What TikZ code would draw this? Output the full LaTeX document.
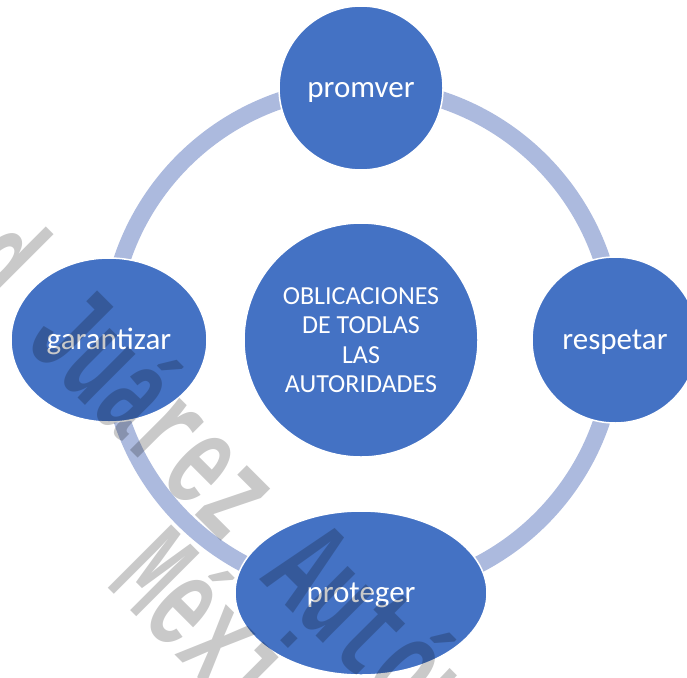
\documentclass[tikz,border=0pt]{standalone}
\usepackage{fontspec}
\setmainfont{Carlito}
\newfontfamily\wmfont{Liberation Mono}
\usetikzlibrary{shapes.geometric}
\definecolor{nodeblue}{HTML}{4472C4}
\definecolor{ringblue}{RGB}{172,186,222}
\tikzset{
  ring/.style={color=ringblue,line width=17pt},
  dot/.style={circle,fill=nodeblue,draw=white,line width=1.5pt,inner sep=0pt,
    text=white,font=\fontsize{31}{37}\selectfont,text height=22pt,text depth=3pt},
  oval/.style={dot,ellipse},
  wmtext/.style={font=\wmfont\bfseries\fontsize{80}{80}\selectfont,text=black,
    opacity=0.21,inner sep=0pt,anchor=base west,rotate=-45,yscale=1.7}
}
\begin{document}
\begin{tikzpicture}[x=1pt,y=-1pt]
  \useasboundingbox (0,0) rectangle (687,677);
  % the cycle ring
  \coordinate (c) at (362,340);
  \draw[ring] (c) circle (253);
  % center and outer nodes
  \node[dot,minimum size=234pt,font=\fontsize{26}{29.5}\selectfont,align=center,
    text height=,text depth=] (mid) at (361,340)
    {OBLICACIONES\\DE TODLAS\\LAS\\AUTORIDADES};
  \node[dot,minimum size=164pt] (top) at (361,88) {promver};
  \node[dot,minimum size=166pt] (right) at (615,340) {respetar};
  \node[oval,minimum width=196pt,minimum height=164pt] (left) at (109,340) {garantizar};
  \node[oval,minimum width=252pt,minimum height=164pt] (bottom) at (361,593) {proteger};
  % watermark
  \begin{scope}
    \clip (0,0) rectangle (687,677);
    \node[wmtext] (wm1) at (-46,274) {d Juárez Autónoma};
    \node[wmtext] (wm2) at (105,585) {México};
  \end{scope}
\end{tikzpicture}
\end{document}
